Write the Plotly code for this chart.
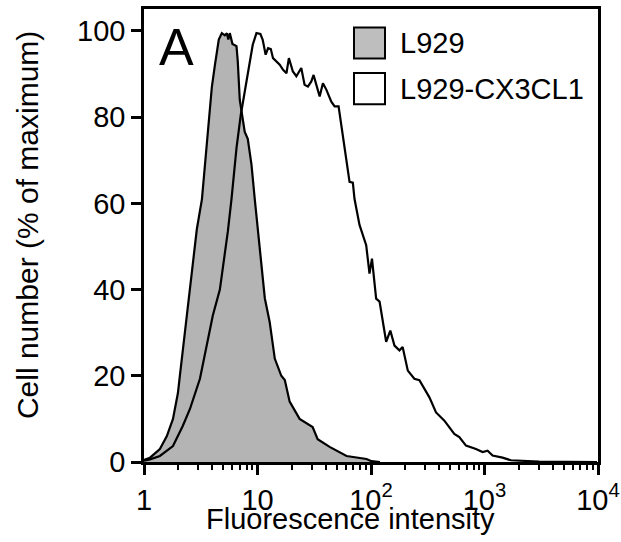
import plotly.graph_objects as go

# L929 (grey filled histogram)
l929_x = [1.0, 1.13, 1.38, 1.59, 1.80, 1.99, 2.07, 2.20, 2.44, 2.70, 2.92, 3.24, 3.51, 3.73,
          3.96, 4.21, 4.56, 4.85, 5.15, 5.37, 5.53, 5.70, 6.02, 6.53, 6.70, 6.98, 7.72, 8.21,
          8.85, 9.46, 10.5, 11.6, 12.8, 14.2, 16.2, 17.4, 19.2, 23.5, 30.6, 33.9, 43.2, 60.9,
          91.3, 101, 120]
l929_y = [0.5, 1.0, 3.0, 6.0, 10.0, 16.0, 20.0, 26.0, 36.0, 45.6, 54.0, 61.0, 72.0, 80.5,
          87.0, 92.0, 98.0, 99.5, 99.0, 99.5, 98.0, 99.5, 97.0, 96.5, 93.0, 84.0, 76.6, 75.0,
          69.0, 61.0, 49.5, 38.0, 32.5, 24.0, 20.0, 19.0, 14.0, 10.0, 8.1, 5.3, 3.5, 1.4,
          0.7, 0.2, 0.0]

# L929-CX3CL1 (open histogram)
cx_x = [1.0, 1.13, 1.38, 1.80, 2.20, 2.54, 3.11, 3.56, 4.04, 4.66, 5.15, 5.48, 5.90, 6.53,
        7.12, 8.00, 9.08, 9.79, 10.6, 11.1, 11.8, 12.4, 13.1, 13.7, 14.7, 15.7, 16.8, 18.0,
        18.9, 20.5, 22.0, 24.3, 26.0, 27.8, 29.8, 31.2, 33.0, 35.3, 37.7, 40.4, 44.7, 47.8,
        51.8, 54.7, 58.5, 62.5, 64.7, 69.2, 71.6, 79.2, 90.7, 97.0, 102, 111, 119, 136, 148,
        161, 178, 190, 211, 241, 267, 327, 374, 443, 542, 600, 687, 841, 962, 1065, 1178,
        1442, 1710, 3030, 9800]
cx_y = [0.3, 0.6, 1.4, 3.7, 8.4, 12.3, 19.3, 27.0, 34.0, 40.0, 48.0, 53.5, 61.0, 72.8,
        80.5, 88.0, 96.8, 99.5, 99.3, 98.0, 94.5, 96.0, 95.8, 93.7, 93.0, 92.2, 91.0, 90.2,
        93.7, 90.6, 89.5, 91.4, 87.5, 87.1, 88.3, 89.8, 87.5, 84.8, 87.9, 86.4, 83.6, 82.5,
        82.5, 78.2, 72.8, 67.4, 65.0, 64.8, 61.0, 55.0, 50.3, 43.7, 47.2, 37.9, 37.2, 27.9,
        30.5, 27.0, 25.9, 26.7, 21.2, 19.3, 19.0, 15.0, 11.5, 9.6, 6.5, 5.8, 3.8, 3.0, 2.3,
        2.6, 1.5, 1.0, 0.4, 0.1, 0.0]

x_tickvals = [1, 10, 100, 1000, 10000]
x_ticktext = ["1", "10", "10<sup>2</sup>", "10<sup>3</sup>", "10<sup>4</sup>"]
y_tickvals = [0, 20, 40, 60, 80, 100]
series_names = ["L929", "L929-CX3CL1"]

minor_vals = [m * d for d in [1, 10, 100, 1000] for m in range(2, 10)]

FONT = "Liberation Sans, Arial, sans-serif"
FS = 29

fig = go.Figure()
fig.add_trace(go.Scatter(x=l929_x, y=l929_y, mode="lines", fill="tozeroy",
                         fillcolor="#b4b4b4", line=dict(color="black", width=2.2),
                         name=series_names[0], showlegend=False))
fig.add_trace(go.Scatter(x=cx_x, y=cx_y, mode="lines",
                         line=dict(color="black", width=2.2),
                         name=series_names[1], showlegend=False))

fig.update_layout(
    width=621, height=542,
    margin=dict(l=144, r=23, t=9, b=80, autoexpand=False),
    paper_bgcolor="white", plot_bgcolor="white",
    font=dict(family=FONT, size=FS, color="black"),
    xaxis=dict(type="log", range=[0, 4], tickvals=x_tickvals, ticktext=x_ticktext,
               ticks="outside", ticklen=10, tickwidth=2.5, tickcolor="black",
               showline=True, linecolor="black", linewidth=2.5, mirror=True,
               showgrid=False, zeroline=False, tickfont=dict(size=FS), automargin=False,
               minor=dict(tickvals=minor_vals, ticks="outside", ticklen=5,
                          tickwidth=2, tickcolor="black", showgrid=False)),
    yaxis=dict(range=[0, 105.1], tickvals=y_tickvals, ticks="outside", ticklen=10,
               tickwidth=2.5, tickcolor="black", showline=True, linecolor="black",
               linewidth=2.5, mirror=True, showgrid=False, zeroline=False,
               tickfont=dict(size=FS), automargin=False),
)

# Titles
fig.add_annotation(text="Fluorescence intensity", xref="paper", yref="paper",
                   x=(350 - 144) / 454, y=-0.125, xanchor="center", yanchor="middle",
                   showarrow=False, font=dict(size=FS))
fig.add_annotation(text="Cell number (% of maximum)", xref="paper", yref="paper",
                   x=(27 - 144) / 454, y=0.523, xanchor="center", yanchor="middle",
                   textangle=-90, showarrow=False, font=dict(size=FS + 1))
# Panel letter
fig.add_annotation(text="A", xref="paper", yref="paper", x=(157 - 144) / 454, y=0.916,
                   xanchor="left", yanchor="middle", showarrow=False, font=dict(size=52))

# Manual legend
legend_fills = ["#bebebe", "white"]
legend_rows = [(0.959, 0.8905), (0.8587, 0.790)]
for name, fillc, (y1, y0) in zip(series_names, legend_fills, legend_rows):
    fig.add_shape(type="rect", xref="paper", yref="paper",
                  x0=(354 - 144) / 454, x1=(385 - 144) / 454, y0=y0, y1=y1,
                  fillcolor=fillc, line=dict(color="black", width=2))
    fig.add_annotation(text=name, xref="paper", yref="paper", x=(398 - 144) / 454,
                       y=(y0 + y1) / 2, xanchor="left", yanchor="middle",
                       showarrow=False, font=dict(size=FS))

fig.write_html(
    "out.html",
    config={"displayModeBar": False},
    post_script="document.body.style.margin='0';"
                "document.documentElement.style.overflow='hidden';",
)
